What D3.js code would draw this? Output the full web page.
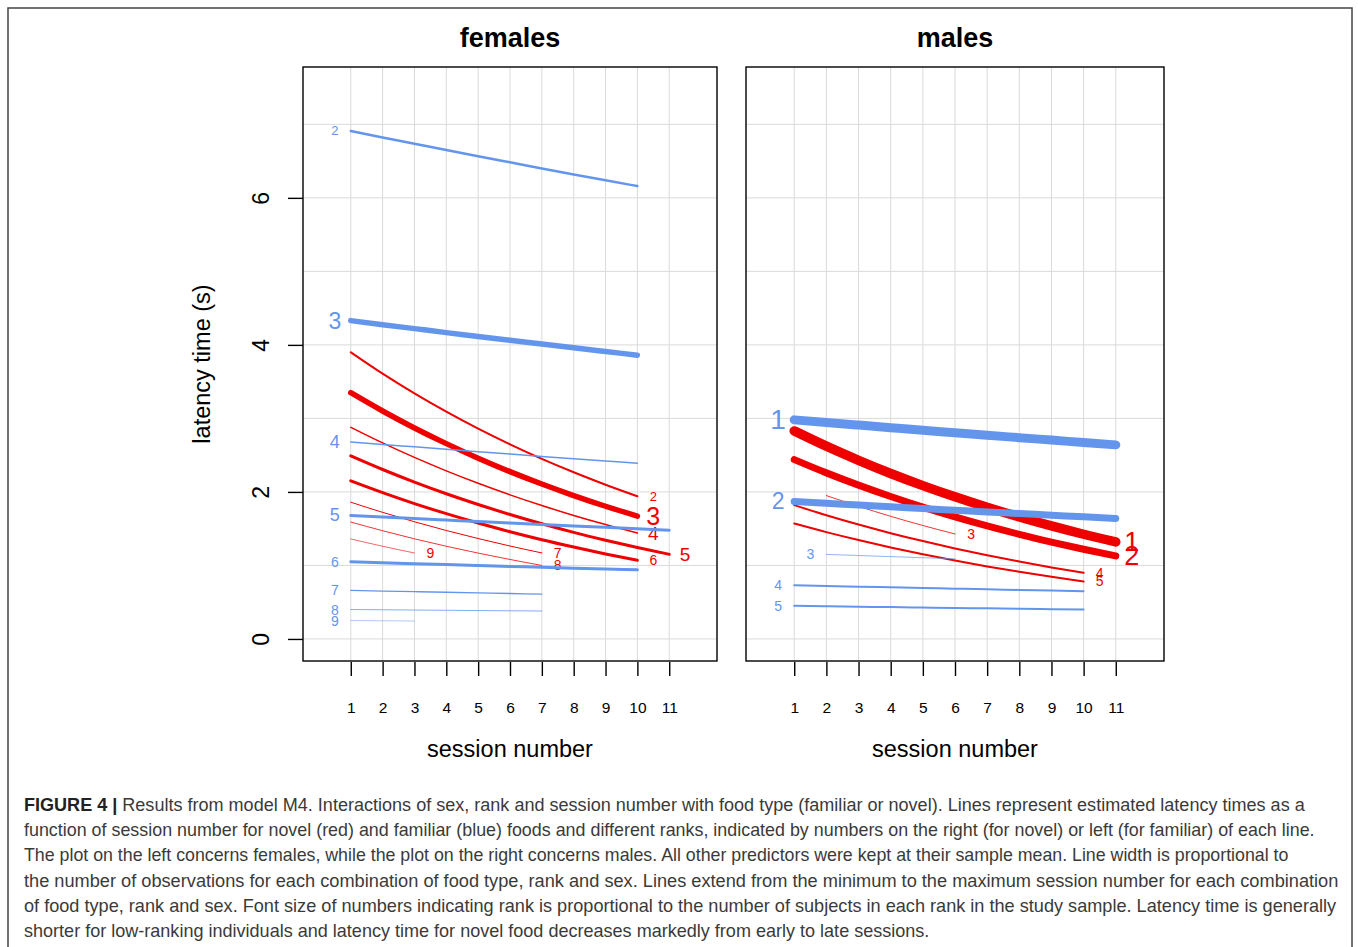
<!DOCTYPE html>
<html>
<head>
<meta charset="utf-8">
<script src="https://cdn.jsdelivr.net/npm/d3@7"></script>
<style>
  body { margin: 0; background: #fff; }
  svg { display: block; font-family: "Liberation Sans", Arial, sans-serif; }
</style>
</head>
<body>
<svg id="fig" width="1358" height="947"></svg>
<script>
// ---- data ----
const sessionTicks = [1, 2, 3, 4, 5, 6, 7, 8, 9, 10, 11];
const latencyTicks = [0, 2, 4, 6];
const gridLatency = [0, 1, 2, 3, 4, 5, 6, 7];
const panelTitles = ["females", "males"];

// females, novel food (red): one row per rank, one value per session
const femNovelRank = [2, 3, 4, 5, 6, 7, 8, 9];
const femNovelFirst = [1, 1, 1, 1, 1, 1, 1, 1];
const femNovelLatency = [
  [3.900, 3.609, 3.340, 3.091, 2.860, 2.647, 2.449, 2.267, 2.098, 1.941],
  [3.350, 3.101, 2.870, 2.657, 2.459, 2.276, 2.107, 1.950, 1.805, 1.671],
  [2.880, 2.667, 2.469, 2.286, 2.117, 1.960, 1.815, 1.680, 1.556, 1.441],
  [2.490, 2.305, 2.134, 1.975, 1.829, 1.693, 1.567, 1.450, 1.343, 1.243, 1.151],
  [2.150, 1.990, 1.841, 1.704, 1.577, 1.459, 1.350, 1.250, 1.156, 1.070],
  [1.860, 1.722, 1.594, 1.475, 1.366, 1.264, 1.170],
  [1.590, 1.472, 1.362, 1.261, 1.168, 1.081, 1.000],
  [1.360, 1.261, 1.169]
];

// females, familiar food (blue)
const femFamRank = [2, 3, 4, 5, 6, 7, 8, 9];
const femFamFirst = [1, 1, 1, 1, 1, 1, 1, 1];
const femFamLatency = [
  [6.910, 6.822, 6.736, 6.650, 6.566, 6.483, 6.400, 6.319, 6.239, 6.160],
  [4.330, 4.275, 4.221, 4.167, 4.115, 4.063, 4.011, 3.960, 3.910, 3.860],
  [2.680, 2.646, 2.613, 2.580, 2.547, 2.515, 2.483, 2.452, 2.421, 2.390],
  [1.680, 1.659, 1.638, 1.617, 1.597, 1.577, 1.557, 1.537, 1.518, 1.499, 1.480],
  [1.050, 1.037, 1.024, 1.012, 0.999, 0.987, 0.975, 0.963, 0.951, 0.940],
  [0.660, 0.651, 0.643, 0.635, 0.626, 0.618, 0.610],
  [0.400, 0.397, 0.393, 0.390, 0.386, 0.383, 0.380],
  [0.250, 0.247, 0.244]
];

// males, novel food (red)
const maleNovelRank = [1, 2, 3, 4, 5];
const maleNovelFirst = [1, 1, 2, 1, 1];
const maleNovelLatency = [
  [2.830, 2.622, 2.430, 2.251, 2.086, 1.933, 1.791, 1.659, 1.537, 1.424, 1.320],
  [2.440, 2.259, 2.092, 1.937, 1.793, 1.660, 1.537, 1.423, 1.318, 1.220, 1.130],
  [1.950, 1.804, 1.668, 1.543, 1.428],
  [1.820, 1.683, 1.556, 1.439, 1.331, 1.231, 1.138, 1.053, 0.973, 0.900],
  [1.570, 1.453, 1.345, 1.245, 1.152, 1.066, 0.986, 0.913, 0.845, 0.782]
];

// males, familiar food (blue)
const maleFamRank = [1, 2, 3, 4, 5];
const maleFamFirst = [1, 1, 2, 1, 1];
const maleFamLatency = [
  [2.980, 2.944, 2.909, 2.874, 2.839, 2.805, 2.771, 2.738, 2.705, 2.672, 2.640],
  [1.870, 1.846, 1.821, 1.798, 1.774, 1.751, 1.728, 1.706, 1.683, 1.661, 1.640],
  [1.150, 1.135, 1.120, 1.105, 1.090],
  [0.730, 0.721, 0.711, 0.702, 0.693, 0.684, 0.675, 0.667, 0.658, 0.650],
  [0.450, 0.444, 0.438, 0.433, 0.427, 0.421, 0.416, 0.410, 0.405, 0.400]
];

// ---- styles (line width ~ observations, label size ~ subjects) ----
const femNovelWidth = [2, 5.5, 1.5, 3, 3, 1, 0.8, 0.6];
const femFamWidth = [2.5, 5.5, 1.5, 3, 3, 1.3, 0.8, 0.5];
const maleNovelWidth = [9.5, 7, 0.8, 2, 2];
const maleFamWidth = [9, 7, 0.7, 2, 2];
const femNovelSize = [13, 25, 19, 19, 14, 14, 14, 14];
const femFamSize = [13, 23, 18, 18, 14, 14, 14, 14];
const maleNovelSize = [27, 27, 14, 14, 14];
const maleFamSize = [28, 23, 14, 14, 14];

const RED = "#ee0000";
const BLUE = "#6495ed";

const svg = d3.select("#fig");

// outer frame of the figure
svg.append("rect")
  .attr("x", 8).attr("y", 8)
  .attr("width", 1344).attr("height", 960)
  .attr("fill", "none")
  .attr("stroke", "#444")
  .attr("stroke-width", 1.5);

function toSeries(first, values) {
  return values.map((v, i) => ({ s: first + i, v: v }));
}

function drawPanel(p) {
  const x = d3.scaleLinear().domain([-0.5, 12.5]).range([p.left, p.right]);
  const y = d3.scaleLinear().domain([-0.3, 7.78]).range([661, 67]);
  const g = svg.append("g");

  // grid
  g.selectAll(".hgrid").data(gridLatency).enter().append("line")
    .attr("x1", p.left).attr("x2", p.right)
    .attr("y1", d => y(d)).attr("y2", d => y(d))
    .attr("stroke", "#dadada").attr("stroke-width", 1);
  g.selectAll(".vgrid").data(sessionTicks).enter().append("line")
    .attr("x1", d => x(d)).attr("x2", d => x(d))
    .attr("y1", 67).attr("y2", 661)
    .attr("stroke", "#dadada").attr("stroke-width", 1);

  const line = d3.line()
    .x(d => x(d.s))
    .y(d => y(d.v))
    .curve(d3.curveMonotoneX);

  // novel (red) first, familiar (blue) on top
  p.novel.values.forEach((vals, i) => {
    const ser = toSeries(p.novel.first[i], vals);
    g.append("path").datum(ser)
      .attr("d", line)
      .attr("fill", "none")
      .attr("stroke", RED)
      .attr("stroke-width", p.novel.width[i])
      .attr("stroke-linecap", "round");
    const last = ser[ser.length - 1];
    g.append("text")
      .attr("x", x(last.s + 0.5)).attr("y", y(last.v))
      .attr("text-anchor", "middle")
      .attr("dominant-baseline", "central")
      .attr("font-size", p.novel.size[i])
      .attr("fill", RED)
      .text(p.novel.rank[i]);
  });

  p.fam.values.forEach((vals, i) => {
    const ser = toSeries(p.fam.first[i], vals);
    g.append("path").datum(ser)
      .attr("d", line)
      .attr("fill", "none")
      .attr("stroke", BLUE)
      .attr("stroke-width", p.fam.width[i])
      .attr("stroke-linecap", "round");
    const first = ser[0];
    g.append("text")
      .attr("x", x(first.s - 0.5)).attr("y", y(first.v))
      .attr("text-anchor", "middle")
      .attr("dominant-baseline", "central")
      .attr("font-size", p.fam.size[i])
      .attr("fill", BLUE)
      .text(p.fam.rank[i]);
  });

  // box
  g.append("rect")
    .attr("x", p.left).attr("y", 67)
    .attr("width", p.right - p.left).attr("height", 661 - 67)
    .attr("fill", "none").attr("stroke", "#000").attr("stroke-width", 1.4);

  // x axis
  const xa = g.append("g")
    .attr("transform", "translate(0,662)")
    .call(d3.axisBottom(x).tickValues(sessionTicks).tickSize(14).tickPadding(26).tickSizeOuter(0));
  xa.select(".domain").remove();
  xa.selectAll("line").attr("stroke", "#000").attr("stroke-width", 1.4);
  xa.selectAll("text").attr("font-size", 15.5).attr("font-family", "Liberation Sans, Arial, sans-serif").attr("fill", "#000");

  g.append("text")
    .attr("x", (p.left + p.right) / 2).attr("y", 757)
    .attr("text-anchor", "middle")
    .attr("font-size", 23.5)
    .text("session number");

  g.append("text")
    .attr("x", (p.left + p.right) / 2).attr("y", 47)
    .attr("text-anchor", "middle")
    .attr("font-size", 27)
    .attr("font-weight", "bold")
    .text(p.title);

  if (p.yaxis) {
    const ya = g.append("g")
      .attr("transform", `translate(${p.left},0)`)
      .call(d3.axisLeft(y).tickValues(latencyTicks).tickSize(15).tickSizeOuter(0));
    ya.select(".domain").remove();
    ya.selectAll("line").attr("stroke", "#000").attr("stroke-width", 1.4);
    ya.selectAll("text")
      .attr("x", null).attr("dy", null)
      .attr("transform", "translate(-34,0) rotate(-90)")
      .attr("text-anchor", "middle")
      .attr("font-size", 23)
      .attr("font-family", "Liberation Sans, Arial, sans-serif")
      .attr("fill", "#000");

    g.append("text")
      .attr("transform", "translate(210,364) rotate(-90)")
      .attr("text-anchor", "middle")
      .attr("font-size", 23.5)
      .text("latency time (s)");
  }
}

drawPanel({
  title: panelTitles[0], left: 303, right: 717, yaxis: true,
  novel: { rank: femNovelRank, first: femNovelFirst, values: femNovelLatency, width: femNovelWidth, size: femNovelSize },
  fam: { rank: femFamRank, first: femFamFirst, values: femFamLatency, width: femFamWidth, size: femFamSize }
});
drawPanel({
  title: panelTitles[1], left: 746, right: 1164, yaxis: false,
  novel: { rank: maleNovelRank, first: maleNovelFirst, values: maleNovelLatency, width: maleNovelWidth, size: maleNovelSize },
  fam: { rank: maleFamRank, first: maleFamFirst, values: maleFamLatency, width: maleFamWidth, size: maleFamSize }
});

// ---- caption ----
const captionLines = [
  "Results from model M4. Interactions of sex, rank and session number with food type (familiar or novel). Lines represent estimated latency times as a",
  "function of session number for novel (red) and familiar (blue) foods and different ranks, indicated by numbers on the right (for novel) or left (for familiar) of each line.",
  "The plot on the left concerns females, while the plot on the right concerns males. All other predictors were kept at their sample mean. Line width is proportional to",
  "the number of observations for each combination of food type, rank and sex. Lines extend from the minimum to the maximum session number for each combination",
  "of food type, rank and sex. Font size of numbers indicating rank is proportional to the number of subjects in each rank in the study sample. Latency time is generally",
  "shorter for low-ranking individuals and latency time for novel food decreases markedly from early to late sessions."
];
const captionRight = [1306, 1315, 1290, 1339, 1337, 930];

captionLines.forEach((txt, i) => {
  const cg = svg.append("g");
  const t = cg.append("text")
    .attr("x", 0).attr("y", 0)
    .attr("font-size", 17.5)
    .attr("fill", "#3a3a3a");
  if (i === 0) {
    t.append("tspan").attr("font-weight", "bold").attr("fill", "#222").text("FIGURE 4 | ");
  }
  t.append("tspan").text(txt);
  const w = t.node().getComputedTextLength();
  const sx = (captionRight[i] - 24) / w;
  cg.attr("transform", `translate(24,${811 + i * 25.2}) scale(${sx},1)`);
});
</script>
</body>
</html>
